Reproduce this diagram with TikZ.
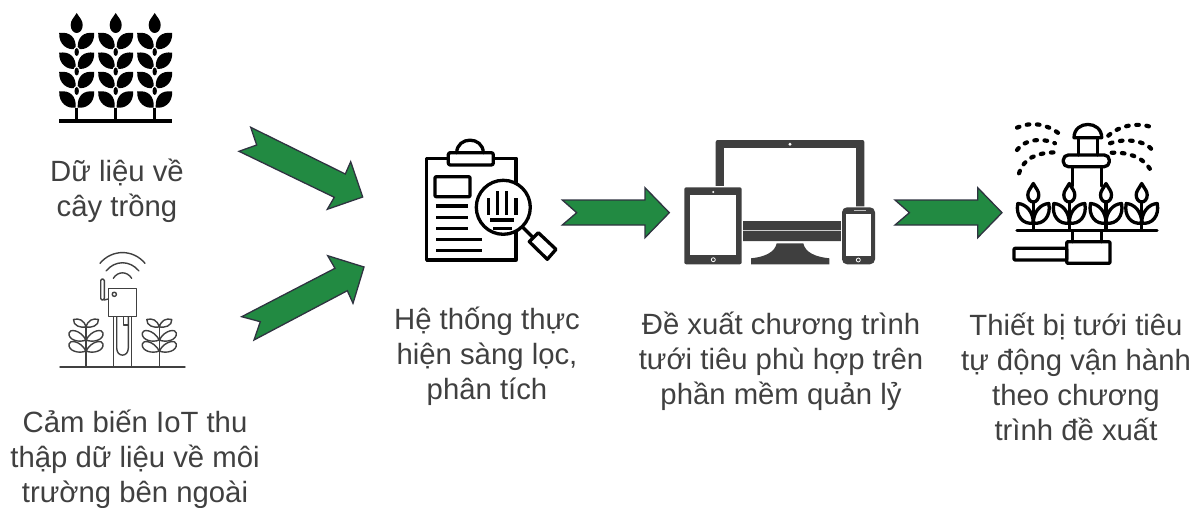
\documentclass[tikz,border=0pt]{standalone}
\usepackage{fontspec}
\setmainfont{Liberation Sans}
\definecolor{arrowgreen}{HTML}{228A42}
\definecolor{arrowedge}{HTML}{2F3340}
\definecolor{txtgray}{HTML}{404040}
\definecolor{devgray}{HTML}{3F3F3F}
\newcommand{\wheatstalk}[1]{%
  \begin{scope}[xshift=#1pt]
    \fill (0,13) .. controls (3,18) and (6,20) .. (6,25) .. controls (6,30) and (3,33) .. (0,33) .. controls (-3,33) and (-6,30) .. (-6,25) .. controls (-6,20) and (-3,18) .. (0,13) -- cycle;
    \foreach \r in {33,52.7,72,91.5}{
      \fill (-17.5,\r) .. controls (-7,\r-1.5) and (-0.3,\r+4) .. (-1,\r+16) .. controls (-9,\r+17.5) and (-18,\r+12) .. (-17.5,\r) -- cycle;
      \fill (17.5,\r) .. controls (7,\r-1.5) and (0.3,\r+4) .. (1,\r+16) .. controls (9,\r+17.5) and (18,\r+12) .. (17.5,\r) -- cycle;
    }
    \foreach \s in {52,71.5,91}{
      \fill[white] (0,\s) ellipse [x radius=3.4,y radius=5.4];
      \fill (0,\s) ellipse [x radius=2.2,y radius=4];
    }
    \fill (-1.7,108) rectangle (1.7,121);
  \end{scope}}
\newcommand{\iotplant}[1]{%
  \begin{scope}[xshift=#1pt,iotline]
    \draw (0,326) -- (0,367);
    \draw (0,327) .. controls (-5,328) and (-13,326) .. (-12.5,319.5) .. controls (-7,318) and (-2,320) .. (0,327) .. controls (2,320) and (7,318) .. (12.5,319.5) .. controls (13,326) and (5,328) .. (0,327);
    \draw (0,340) .. controls (-7,343) and (-18,340) .. (-17,333) .. controls (-17,329) and (-6,329) .. (0,340) .. controls (6,329) and (17,329) .. (17,333) .. controls (18,340) and (7,343) .. (0,340);
    \draw (0,351) .. controls (-7,354) and (-18,351) .. (-17,344) .. controls (-17,340) and (-6,340) .. (0,351) .. controls (6,340) and (17,340) .. (17,344) .. controls (18,351) and (7,354) .. (0,351);
  \end{scope}}
\newcommand{\sprinkplant}[1]{%
  \begin{scope}[xshift=#1pt,iconline]
    \draw[fill=white] (0,183.5) .. controls (3,189) and (5.5,191) .. (5.5,195) .. controls (5.5,199) and (3,202) .. (0,202) .. controls (-3,202) and (-5.5,199) .. (-5.5,195) .. controls (-5.5,191) and (-3,189) .. (0,183.5) -- cycle;
    \draw (0,202) -- (0,230);
    \draw (0,223) .. controls (-10,225) and (-18,216) .. (-15.5,203.5) .. controls (-7,204) and (0,212) .. (0,223);
    \draw (0,223) .. controls (10,225) and (18,216) .. (15.5,203.5) .. controls (7,204) and (0,212) .. (0,223);
  \end{scope}}
\tikzset{
  blockarrow/.style={fill=arrowgreen,draw=arrowedge,line width=1.3pt,line join=miter},
  caption/.style={text=txtgray,align=center,inner sep=0pt,font=\fontsize{29.3}{35.2}\selectfont},
  iconline/.style={draw=black,line width=3.3pt,line cap=round,line join=round},
  iotline/.style={draw=txtgray,line width=1.4pt,line cap=round,line join=round},
  spray/.style={draw=black,line width=4.2pt,line cap=round,dash pattern=on 2.6pt off 7.6pt},
}
\begin{document}
\begin{tikzpicture}[x=1pt,y=-1pt]
\useasboundingbox (0,0) rectangle (1193,508);

% wheat
\wheatstalk{76.7}\wheatstalk{115.7}\wheatstalk{154.7}
\fill (59,119) rectangle (172,123);

% block arrows
\draw[blockarrow] (250.7,127.3) -- (256.7,145) -- (239,151.3) -- (334.3,197.3) -- (327.3,209.3) -- (362.7,197) -- (350.7,161.7) -- (345.3,174) -- cycle;
\draw[blockarrow] (254,340) -- (260.3,321.7) -- (241.7,316.7) -- (335,268.3) -- (327.7,255.7) -- (364,267) -- (353,303.3) -- (347.3,290.7) -- cycle;
\draw[blockarrow] (562.3,200) -- (645,200) -- (645,187.7) -- (669.3,212.7) -- (645,237.7) -- (645,225) -- (562.3,225) -- (576.7,212.7) -- cycle;
\draw[blockarrow] (895,200) -- (977.7,200) -- (977.7,187.7) -- (1002,212.7) -- (977.7,237.7) -- (977.7,225) -- (895,225) -- (909.4,212.7) -- cycle;

% iot sensor
\begin{scope}[iotline]
  \draw (60,367) -- (185,367);
  \draw (100,263.3) .. controls (112,249) and (133,249) .. (145,263.3);
  \draw (106,271) .. controls (115,260) and (130,260) .. (139,271);
  \draw (113.3,278.3) .. controls (118,271) and (127,271) .. (131.7,278.3);
  \draw[rounded corners=1.5pt] (100.7,279) rectangle (104.3,300);
  \draw (104.3,300) -- (108.3,299);
  \draw (108.3,288.3) rectangle (136.7,316.7);
  \draw (114.3,294.3) circle (2.1);
  \draw (113.3,316.7) -- (113.3,367) (131.7,316.7) -- (131.7,367);
  \draw (116.7,316.7) -- (116.7,348) .. controls (116.7,357.5) and (128.3,357.5) .. (128.3,348) -- (128.3,316.7);
  \draw (123.3,316.7) -- (123.3,325) -- (128.3,325);
\end{scope}
\iotplant{86}\iotplant{159.3}

% clipboard
\begin{scope}[iconline]
  \draw (426.7,158.3) rectangle (516,260);
  \draw[fill=white,rounded corners=2pt] (448.3,152.7) rectangle (493.3,165);
  \draw (456.7,152.7) .. controls (457,136) and (483,136) .. (483.3,152.7);
  \draw[rounded corners=1pt] (435,176.7) rectangle (470,196.7);
  \draw[line cap=butt] (436,206) -- (468,206) (436,217.3) -- (468,217.3) (436,228.3) -- (468,228.3);
  \draw[line cap=butt] (436,239.3) -- (481.7,239.3) (436,250.7) -- (481.7,250.7);
  \draw[fill=white] (503.3,207.3) circle (27);
  \draw[line cap=butt] (488.3,198) -- (488.3,215) (497.7,191) -- (497.7,215) (506.7,191) -- (506.7,215) (516,198) -- (516,215);
  \draw[line cap=butt] (490,220) -- (514,220) (493,228.3) -- (512,228.3);
  \draw (522.5,227) -- (532.5,237);
  \draw[fill=white] (538.3,232.7) -- (556,249.3) -- (547.3,259.3) -- (529.3,241.7) -- cycle;
\end{scope}

% devices
\fill[devgray,rounded corners=2pt] (715.7,140) rectangle (864.3,241);
\fill[white] (724,148.3) rectangle (856,220.7);
\fill[white] (790,144.3) circle (1.6);
\fill[gray!40] (741,229.6) rectangle (842,230.6);
\fill[devgray] (776.7,243.3) -- (803.3,243.3) .. controls (805,252) and (815,257) .. (829.3,258.3) -- (829.3,264.3) -- (751,264.3) -- (751,258.3) .. controls (765,257) and (775,252) .. (776.7,243.3) -- cycle;
\fill[white] (683.3,186.3) rectangle (742.5,265.3);
\fill[devgray,rounded corners=2pt] (684.3,187.3) rectangle (741.7,264.3);
\fill[white] (690,195.3) rectangle (736,255.3);
\fill[white] (713.3,192) circle (1.1);
\draw[white,line width=0.8pt] (713.3,259.7) circle (2);
\fill[white,rounded corners=5pt] (841,206.3) rectangle (876,265.3);
\fill[devgray,rounded corners=5pt] (842,207.3) rectangle (875,264.3);
\fill[white] (845.7,214.3) rectangle (871.3,256);
\fill[gray!50] (854,209.6) rectangle (866,211);
\draw[white,line width=0.8pt] (858.3,260) circle (2);

% sprinkler
\begin{scope}[iconline]
  \draw (1074,137.7) .. controls (1074,120) and (1101.7,120) .. (1101.7,137.7) -- cycle;
  \draw (1078.3,137.7) -- (1078.3,155) (1097.3,137.7) -- (1097.3,155);
  \draw (1072.7,166.7) -- (1072.7,186) (1101.7,166.7) -- (1101.7,186);
  \draw[rounded corners=5pt] (1063.3,155) rectangle (1109.3,166.7);
  \draw (1017,230.7) -- (1157,230.7);
  \draw (1072.7,230.7) -- (1072.7,241.7) (1101.7,230.7) -- (1101.7,241.7);
  \draw[rounded corners=1pt] (1066.7,241.7) rectangle (1110,263.3);
  \draw[rounded corners=1pt] (1014,248.3) rectangle (1066.7,260);
\end{scope}
\sprinkplant{1033.3}\sprinkplant{1069.3}\sprinkplant{1106}\sprinkplant{1141.7}
\draw[spray] (1017,127.7) .. controls (1032,121) and (1048,124) .. (1060.7,135);
\draw[spray] (1017,150) .. controls (1024,140) and (1040,137) .. (1055,143.3);
\draw[spray] (1019,173.3) .. controls (1024,158) and (1036,153) .. (1055,152.3);
\draw[spray] (1108.3,135.7) .. controls (1120,125) and (1138,122) .. (1153.3,127.7);
\draw[spray] (1110,143.3) .. controls (1125,138) and (1145,140) .. (1153.3,151);
\draw[spray] (1111.7,152.7) .. controls (1130,152) and (1146,158) .. (1152.7,174.3);

% captions
\node[caption] (crop) at (117,191) {Dữ liệu về\\cây trồng};
\node[caption] (iot) at (135,459) {Cảm biến IoT thu\\thập dữ liệu về môi\\trường bên ngoài};
\node[caption] (screen) at (487,356) {Hệ thống thực\\hiện sàng lọc,\\phân tích};
\node[caption] (suggest) at (781,361) {Đề xuất chương trình\\tưới tiêu phù hợp trên\\phần mềm quản lỷ};
\node[caption] (device) at (1076,377) {Thiết bị tưới tiêu\\tự động vận hành\\theo chương\\trình đề xuất};
\end{tikzpicture}
\end{document}
